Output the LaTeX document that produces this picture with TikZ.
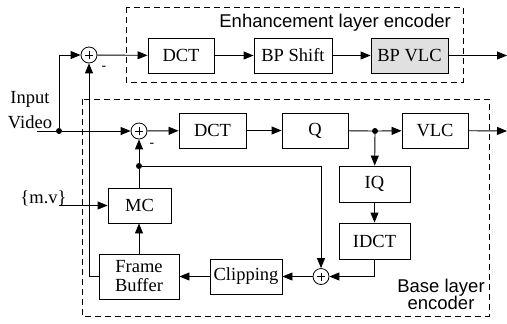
\documentclass[tikz,border=0pt]{standalone}
\usepackage{fontspec}
\setmainfont{Liberation Serif}
\newfontfamily\arialf{Liberation Sans}
\usetikzlibrary{arrows.meta}
\tikzset{
  box/.style={draw, line width=0.9bp, minimum width=66bp, minimum height=35bp, inner sep=0pt, font=\fontsize{18.5bp}{19bp}\selectfont},
  sumnode/.style={draw, circle, line width=0.8bp, minimum size=16bp, inner sep=0pt,
    path picture={\draw[line width=0.6bp] (path picture bounding box.center) +(-4bp,0) -- +(4bp,0)
      (path picture bounding box.center) +(0,-4bp) -- +(0,4bp);}},
  dotnode/.style={circle, fill=black, minimum size=6bp, inner sep=0pt},
  conn/.style={line width=0.9bp, -{Triangle[length=10bp,width=8bp]}},
  plain/.style={line width=0.9bp},
  frame/.style={line width=0.8bp, dash pattern=on 6bp off 4bp},
  sans/.style={font=\arialf\fontsize{18.5bp}{18bp}\selectfont, inner sep=0pt},
  serif/.style={font=\fontsize{18.5bp}{19bp}\selectfont, inner sep=0pt, align=center}
}
\begin{document}
\begin{tikzpicture}[x=1bp, y=-1bp]
\useasboundingbox (0,0) rectangle (507,323);
% dashed frames
\draw[frame] (126,7) rectangle (463,82);
\draw[frame] (82,99) rectangle (489,316);
\node[sans, anchor=base east] (enhlab) at (451,27) {Enhancement layer encoder};
\node[sans, anchor=base] (baselab1) at (441,292) {Base layer};
\node[sans, anchor=base] (baselab2) at (441,309) {encoder};
% labels
\node[serif, anchor=base] (inlab1) at (30,103) {Input};
\node[serif, anchor=base] (inlab2) at (30,128) {Video};
\node[serif, anchor=base] (mvlab) at (43.5,203) {\{m.v\}};
% boxes
\node[box] (dcta) at (181,55.5) {DCT};
\node[box, minimum width=78bp] (bps) at (293,55.5) {BP Shift};
\node[box, minimum width=77bp, fill=black!12] (bpv) at (409.5,55.5) {BP VLC};
\node[box, minimum width=67bp] (dctb) at (212.5,130.5) {DCT};
\node[box] (q) at (315,130.5) {Q};
\node[box] (vlc) at (435,130.5) {VLC};
\node[box, minimum width=71bp, minimum height=36bp] (iq) at (374.5,184) {IQ};
\node[box, minimum width=71bp, minimum height=36bp] (idct) at (374.5,241) {IDCT};
\node[box, minimum width=63bp] (mc) at (139.5,205.5) {MC};
\node[box, minimum width=80bp, minimum height=45bp, align=center] (fb) at (139,276.5) {Frame\\Buffer};
\node[box, minimum width=72bp] (clip) at (246,276.5) {Clipping};
% summers
\node[sumnode] (s1) at (89,55) {};
\node[sumnode] (s2) at (139,131) {};
\node[sumnode] (s3) at (321,276.5) {};
\node[sans, font=\arialf\fontsize{14bp}{14bp}\selectfont] (m1) at (104,68) {-};
\node[sans, font=\arialf\fontsize{14bp}{14bp}\selectfont] (m2) at (152,145) {-};
% junctions
\coordinate (in) at (37,131);
\node[dotnode] (jn) at (59,131) {};
\node[dotnode] (jq) at (375,131) {};
\node[dotnode] (jm) at (139,166) {};
\coordinate (out1) at (507,55.5);
\coordinate (out2) at (507,131);
\coordinate (mv) at (59,205.5);
% connectors
\draw[plain] (in) -- (jn);
\draw[conn] (jn) -- (s2);
\draw[conn] (jn) |- (s1);
\draw[conn] (s1) -- (dcta);
\draw[conn] (dcta) -- (bps);
\draw[conn] (bps) -- (bpv);
\draw[conn] (bpv) -- (out1);
\draw[conn] (s2) -- (dctb);
\draw[conn] (dctb) -- (q);
\draw[plain] (q) -- (jq);
\draw[conn] (jq) -- (vlc);
\draw[conn] (vlc) -- (out2);
\draw[conn] (jq) -- (iq);
\draw[conn] (iq) -- (idct);
\draw[conn] (idct.south) |- (s3);
\draw[conn] (s3) -- (clip);
\draw[conn] (clip) -- (fb);
\draw[conn] (fb) -- (fb.north |- mc.south);
\draw[plain] (mc.north -| jm) -- (jm);
\draw[conn] (jm) -- (s2);
\draw[conn] (jm) -| (s3);
\draw[conn] (fb.west) -| (s1);
\draw[conn] (mv) -- (mc);
\end{tikzpicture}
\end{document}
